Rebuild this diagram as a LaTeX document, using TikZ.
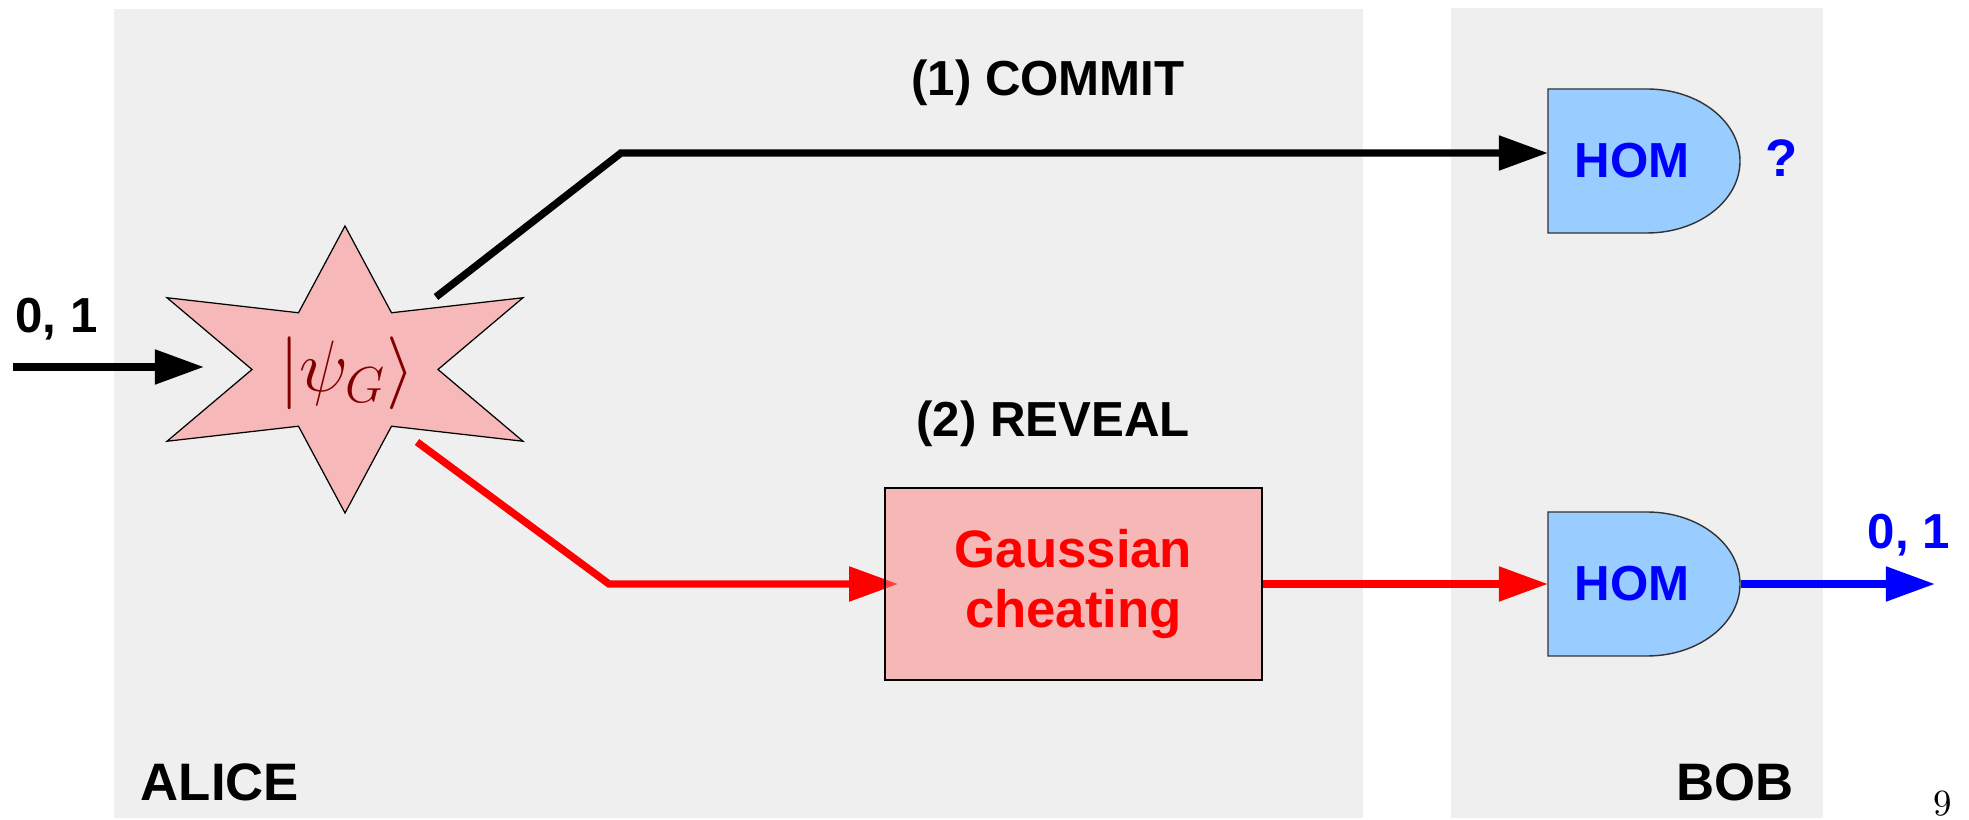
\documentclass[tikz,border=0pt]{standalone}
\usepackage{fontspec}
\usetikzlibrary{arrows.meta}
\newfontfamily\lblfont{Liberation Sans}
\definecolor{panelgray}{RGB}{239,239,239}
\definecolor{burstpink}{RGB}{246,184,184}
\definecolor{cheatpink}{RGB}{253,129,129}
\definecolor{homblue}{RGB}{153,204,255}
\definecolor{ketred}{RGB}{128,0,0}
\pgfdeclarelayer{panel}
\pgfsetlayers{panel,main}
\begin{document}
\begin{tikzpicture}[>={Triangle[length=14pt,width=9.5pt]}, wire/.style={line width=2.1pt},
  lbl/.style={font=\lblfont\bfseries\fontsize{14}{17}\selectfont},
  party/.style={font=\lblfont\bfseries\fontsize{15}{18}\selectfont, anchor=base},
  gate/.style={draw=black!80, line width=0.4pt, fill=homblue},
  burst/.style={draw=black, line width=0.35pt, fill=burstpink}]
\useasboundingbox (0,0) rectangle (19.69,8.2);
\begin{pgfonlayer}{panel}
\fill[panelgray] (1.14,0.02) rectangle (13.63,8.11);
\fill[panelgray] (14.51,0.02) rectangle (18.23,8.12);
\end{pgfonlayer}
% Alice's state
\draw[burst, shift={(3.45,4.505)}] (90:2.055 and 1.435)
  \foreach \a in {0,...,5}{ -- ({60-60*\a}:0.93 and 0.655) -- ({30-60*\a}:2.055 and 1.435)} -- cycle;
\node[text=ketred, font=\fontsize{20}{24}\selectfont] (psi) at (3.47,4.47) {$\left|\psi_G\right\rangle$};
% Bob's detectors
\draw[gate] (15.48,7.31) -- (16.47,7.31) arc[start angle=90, end angle=-90, x radius=0.93, y radius=0.72] -- (15.48,5.87) -- cycle;
\draw[gate] (15.48,3.08) -- (16.47,3.08) arc[start angle=90, end angle=-90, x radius=0.93, y radius=0.72] -- (15.48,1.64) -- cycle;
\node[lbl, text=blue, anchor=west, inner xsep=0.26cm, minimum height=1.44cm] (hom1) at (15.48,6.59) {HOM};
\node[lbl, text=blue, anchor=west, inner xsep=0.26cm, minimum height=1.44cm] (hom2) at (15.48,2.36) {HOM};
\node[lbl, text=blue, font=\lblfont\bfseries\fontsize{15}{18}\selectfont] (ask) at (17.82,6.62) {?};
\node[lbl, text=blue, anchor=base] (bit) at (19.09,2.71) {0, 1};
\node[lbl, anchor=base] (inbit) at (0.565,4.87) {0, 1};
\node[lbl, anchor=base] (commit) at (10.48,7.24) {(1) COMMIT};
\node[lbl, anchor=base] (reveal) at (10.53,3.83) {(2) REVEAL};
\node[draw=black, line width=0.4pt, fill=cheatpink, fill opacity=0.5, text opacity=1, text=red,
  minimum width=3.77cm, minimum height=1.92cm, align=center,
  font=\lblfont\bfseries\fontsize{15}{17}\selectfont] (cheat) at (10.735,2.36) {Gaussian\\cheating};
\node[party] (alice) at (2.20,0.20) {ALICE};
\node[party] (bob) at (17.35,0.19) {BOB};
\node[anchor=base, font=\fontsize{10.5}{12}\selectfont] (page) at (19.43,0.04) {9};
% wires
\coordinate (src) at (0.13,4.53);
\coordinate (srctip) at (2.04,4.53);
\coordinate (bstart) at (4.36,5.23);
\coordinate (bbend) at (6.21,6.67);
\coordinate (rstart) at (4.17,3.78);
\coordinate (rbend) at (6.09,2.36);
\coordinate (out) at (19.35,2.36);
\begin{pgfonlayer}{panel}
\draw[wire, ->] (src) -- (srctip);
\draw[wire, ->] (bstart) -- (bbend) -- (bbend -| hom1.west);
\draw[wire, red, ->] (rstart) -- (rbend) -- ([xshift=0.14cm]cheat.west);
\draw[wire, red, ->] (cheat.east) -- (hom2.west);
\draw[wire, blue, ->] ([xshift=0.25cm]hom2.east) -- (out);
\end{pgfonlayer}
\end{tikzpicture}
\end{document}
